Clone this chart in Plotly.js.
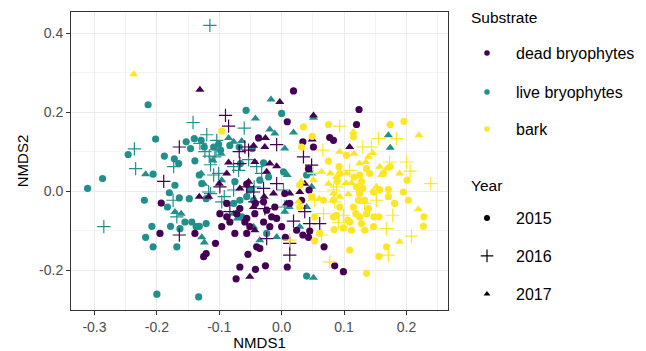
<!DOCTYPE html>
<html>
<head>
<meta charset="utf-8">
<script src="https://cdn.plot.ly/plotly-3.0.1.min.js"></script>
<style>html,body{margin:0;padding:0;background:#fff;}#chart{width:646px;height:351px;}</style>
</head>
<body>
<div id="chart"></div>
<script>
// ---- Data (NMDS scores) ----
const substrates = ["dead bryophytes", "live bryophytes", "bark"];
const years = ["2015", "2016", "2017"];
const xTickVals = [-0.3, -0.2, -0.1, 0.0, 0.1, 0.2];
const xTickText = ["-0.3", "-0.2", "-0.1", "0.0", "0.1", "0.2"];
const yTickVals = [-0.2, 0.0, 0.2, 0.4];
const yTickText = ["-0.2", "0.0", "0.2", "0.4"];

// live bryophytes
const liveX2015 = [-0.311,-0.287,-0.246,-0.214,-0.202,-0.188,-0.206,-0.220,-0.208,-0.218,-0.206,-0.200,-0.172,-0.165,-0.171,-0.180,-0.183,-0.178,-0.168,-0.164,-0.163,-0.153,-0.146,-0.140,-0.148,-0.139,-0.129,-0.124,-0.132,-0.128,-0.121,-0.121,-0.133,-0.144,-0.155,-0.132,-0.057,0.000,-0.109,-0.101,-0.098,-0.083,-0.068,-0.066,-0.075,-0.056,-0.051,-0.067,-0.077,-0.045,-0.029,-0.021,-0.035,0.003,0.040,0.040,-0.047,-0.064,-0.024,-0.137];
const liveY2015 = [0.007,0.032,0.093,0.219,0.132,0.089,0.043,-0.023,-0.089,-0.117,-0.141,-0.261,0.082,0.070,0.015,-0.004,-0.040,-0.089,-0.141,-0.017,-0.095,0.125,0.108,0.133,-0.019,0.077,0.129,0.112,0.041,0.019,-0.019,-0.082,-0.268,-0.078,-0.078,-0.089,0.205,0.197,0.112,0.119,0.104,0.116,0.112,0.070,0.024,-0.014,0.003,-0.023,-0.031,-0.023,0.072,0.036,0.028,0.049,-0.215,0.041,0.108,-0.065,-0.107,-0.090];
const liveX2016 = [-0.115,-0.285,-0.236,-0.234,-0.142,-0.120,-0.131,-0.104,-0.060,-0.123,-0.116,-0.107,-0.101,-0.114,-0.105,-0.173,-0.174,-0.168,-0.117,-0.114,-0.096,-0.092,-0.077,-0.069,-0.053,-0.040,-0.032,-0.044,-0.077,0.003,0.005,-0.109];
const liveY2016 = [0.420,-0.090,0.107,0.057,0.174,0.143,0.121,0.129,0.160,0.100,0.089,0.087,0.045,0.067,0.105,0.062,-0.023,-0.065,-0.002,-0.006,-0.027,-0.014,0.062,0.053,0.080,0.062,0.045,0.011,0.003,0.003,-0.040,0.041];
const liveX2017 = [-0.218,-0.171,-0.161,-0.128,-0.124,-0.129,-0.085,-0.077,-0.064,-0.042,-0.017,-0.019,-0.011,0.019,0.005,0.051,-0.097,-0.110,-0.125,-0.096,-0.071,-0.077,-0.045,-0.035,-0.008,0.005,0.009,0.012,0.048,0.040,0.048,0.051,0.171,0.174,0.029];
const liveY2017 = [0.043,-0.053,-0.057,-0.117,-0.130,0.045,0.135,0.125,0.127,0.184,0.232,0.156,0.146,0.149,0.108,0.186,0.095,0.078,0.019,0.028,-0.069,-0.057,-0.090,-0.124,-0.116,-0.052,0.041,-0.040,0.011,-0.040,0.045,-0.219,0.142,0.110,-0.090];

// dead bryophytes
const deadX2015 = [0.019,0.124,0.120,0.009,-0.037,0.077,0.083,0.034,0.051,-0.193,-0.195,-0.139,-0.125,-0.121,-0.106,-0.099,-0.096,-0.083,-0.075,-0.072,-0.059,-0.056,-0.054,-0.040,-0.035,-0.073,-0.067,-0.042,-0.026,-0.029,-0.019,-0.008,0.000,0.009,0.006,0.024,0.034,0.043,0.045,0.068,0.085,0.099,-0.056,-0.042,-0.011,0.005,0.013,0.032,0.044,0.043,-0.043,-0.024,-0.029,-0.067,-0.088,-0.056,-0.088,-0.051,-0.016];
const deadY2015 = [0.254,0.207,0.169,0.176,0.135,0.136,0.129,0.125,0.112,-0.030,-0.107,-0.107,-0.166,-0.158,-0.132,-0.057,-0.090,-0.078,-0.107,-0.057,-0.078,-0.107,-0.160,-0.141,-0.145,-0.222,-0.192,-0.198,-0.189,-0.078,-0.090,-0.069,-0.090,-0.192,-0.117,-0.099,-0.111,-0.117,-0.101,-0.141,-0.189,-0.204,0.018,-0.031,-0.040,-0.006,-0.031,-0.023,0.003,0.057,-0.057,-0.048,-0.027,-0.044,-0.031,-0.069,-0.065,-0.090,-0.065];
const deadX2016 = [-0.090,-0.085,-0.164,-0.189,-0.164,-0.059,-0.068,-0.053,-0.008,-0.067,-0.056,-0.045,-0.029,-0.008,-0.099,-0.083,-0.024,0.019,0.013,0.013,0.037,0.035,0.048,0.061,0.045,-0.027,-0.043];
const deadY2016 = [0.192,0.165,0.112,0.025,-0.111,0.112,0.100,0.104,0.118,0.070,0.011,-0.002,0.007,0.019,0.011,-0.052,-0.120,-0.076,-0.132,-0.162,-0.052,0.087,0.066,-0.082,-0.082,-0.044,-0.027];
const deadX2017 = [-0.131,-0.003,0.051,0.049,0.109,-0.045,-0.026,-0.027,-0.085,-0.088,-0.100,-0.117,-0.132,-0.067,-0.053,-0.024,-0.019,-0.008,-0.013,0.013,0.029,0.037,-0.051,-0.045,0.008,-0.028,-0.043,-0.043];
const deadY2017 = [0.257,0.226,0.192,0.131,0.112,0.115,0.135,0.112,0.073,0.045,0.019,-0.014,-0.014,0.007,0.024,0.049,0.070,0.063,-0.006,-0.006,-0.002,0.019,-0.217,-0.040,-0.031,-0.014,0.074,-0.099];

// bark
const barkX2015 = [-0.096,0.035,0.075,0.174,0.196,0.049,0.075,0.092,0.093,0.089,0.104,0.115,0.116,0.125,0.136,0.141,0.128,0.130,0.133,0.123,0.115,0.119,0.125,0.136,0.139,0.147,0.157,0.163,0.174,0.171,0.171,0.181,0.195,0.201,0.203,0.228,0.227,0.156,0.148,0.109,0.112,0.099,0.084,0.106,0.128,0.133,0.109,0.136,0.156,0.168,0.053,0.053,0.061,0.048,0.029,0.029,0.032,0.067,0.083,0.093,0.088,0.147,0.083,0.125,0.120];
const barkY2015 = [0.152,0.163,0.169,0.169,0.177,0.139,0.076,0.062,0.045,0.025,0.091,0.138,0.036,0.041,0.057,0.045,0.024,0.007,-0.023,-0.023,-0.040,-0.057,-0.065,-0.057,-0.044,-0.002,0.004,0.045,0.062,0.004,-0.014,-0.031,-0.002,0.028,-0.023,-0.065,-0.089,-0.065,-0.065,-0.078,-0.099,-0.093,-0.097,-0.073,-0.082,-0.099,-0.149,-0.208,-0.165,-0.141,-0.126,-0.065,-0.107,-0.014,-0.040,0.015,0.112,-0.023,-0.023,-0.040,-0.061,-0.090,-0.065,-0.006,0.011];
const barkX2016 = [0.093,0.155,0.184,0.130,0.066,0.200,0.206,0.239,0.173,0.088,0.109,0.083,0.152,0.178,0.168,0.208,0.171,0.077,0.085,0.053,0.067,0.064,0.091,0.013,0.133,0.144,0.099,0.051];
const barkY2016 = [0.165,0.133,0.133,0.112,0.104,0.074,0.051,0.019,0.074,0.011,0.053,0.003,-0.023,-0.061,-0.095,-0.114,-0.162,-0.179,-0.027,-0.023,-0.057,-0.111,-0.080,-0.124,-0.031,0.112,-0.061,0.045];
const barkX2017 = [-0.237,0.220,0.115,0.146,0.157,0.135,0.125,0.116,0.093,0.078,0.064,0.051,0.075,0.103,0.031,0.027,0.060,0.083,0.093,0.112,0.189,0.219,0.189,0.107,0.125,0.152,0.160,0.168,0.139,0.104,0.088];
const barkY2017 = [0.296,0.142,0.150,0.097,0.062,0.074,0.070,0.095,0.100,0.045,0.049,0.028,0.019,0.021,0.024,-0.027,-0.019,-0.006,-0.014,0.021,0.045,-0.046,-0.128,-0.008,0.003,0.011,0.041,0.057,0.087,0.045,0.036];

// ---- Styling ----
const colors = {"dead bryophytes": "#440154", "live bryophytes": "#21908C", "bark": "#FDE725"};
const symbols = {"2015": "circle", "2016": "cross-thin-open", "2017": "triangle-up"};
const FONT = "Liberation Sans, Arial, sans-serif";
const W = 646, H = 351;

const series = {
  "dead bryophytes": {"2015": [deadX2015, deadY2015], "2016": [deadX2016, deadY2016], "2017": [deadX2017, deadY2017]},
  "live bryophytes": {"2015": [liveX2015, liveY2015], "2016": [liveX2016, liveY2016], "2017": [liveX2017, liveY2017]},
  "bark": {"2015": [barkX2015, barkY2015], "2016": [barkX2016, barkY2016], "2017": [barkX2017, barkY2017]}
};

function markerFor(color, year) {
  if (year === "2016") {
    return {symbol: symbols[year], size: 9.5, color: color, line: {color: color, width: 1.2}};
  }
  return {symbol: symbols[year], size: year === "2017" ? 8 : 7.2, color: color, line: {width: 0}};
}

const traces = [];
["live bryophytes", "dead bryophytes", "bark"].forEach(function (s) {
  years.forEach(function (yr) {
    const d = series[s][yr];
    traces.push({
      type: "scatter", mode: "markers", x: d[0], y: d[1],
      name: s + " " + yr, showlegend: false, hoverinfo: "skip",
      marker: markerFor(colors[s], yr)
    });
  });
});

// one legend box per entry, so the ggplot spacing can be matched
const legendRows = [53, 92, 129, 218, 256, 294];
const legendX = 458 / W;
const legendDefs = {};
substrates.forEach(function (s, i) {
  const key = i === 0 ? "legend" : "legend" + (i + 1);
  traces.push({
    type: "scatter", mode: "markers", x: [null], y: [null], name: s,
    legend: key, showlegend: true,
    marker: {symbol: "circle", size: 5.5, color: colors[s]}
  });
  legendDefs[key] = legendRows[i];
});
years.forEach(function (yr, i) {
  const key = "legend" + (i + 4);
  const m = yr === "2016" ? {symbol: "cross-thin-open", size: 9, color: "#000", line: {color: "#000", width: 1.2}}
                          : {symbol: symbols[yr], size: 6, color: "#000", line: {width: 0}};
  traces.push({
    type: "scatter", mode: "markers", x: [null], y: [null], name: yr,
    legend: key, showlegend: true, marker: m
  });
  legendDefs[key] = legendRows[i + 3];
});

const axisCommon = {
  showgrid: true, gridcolor: "#EBEBEB", gridwidth: 1,
  zeroline: false, showline: true, mirror: true, linecolor: "#333333", linewidth: 1,
  ticks: "outside", ticklen: 4, tickcolor: "#333333", tickwidth: 1,
  tickfont: {family: FONT, size: 14, color: "#4D4D4D"}
};

const layout = {
  width: W, height: H,
  margin: {l: 71, r: 198, t: 12, b: 41},
  paper_bgcolor: "#fff", plot_bgcolor: "#fff",
  font: {family: FONT, color: "#000"},
  xaxis: Object.assign({}, axisCommon, {
    range: [-0.3376, 0.2666], tickvals: xTickVals, ticktext: xTickText,
    minor: {tickvals: [-0.25, -0.15, -0.05, 0.05, 0.15, 0.25], showgrid: true, gridcolor: "#F3F3F3", gridwidth: 1, ticks: ""},
    title: {text: "NMDS1", font: {family: FONT, size: 15, color: "#000"}, standoff: 2}
  }),
  yaxis: Object.assign({}, axisCommon, {
    range: [-0.301, 0.454], tickvals: yTickVals, ticktext: yTickText,
    minor: {tickvals: [-0.3, -0.1, 0.1, 0.3], showgrid: true, gridcolor: "#F3F3F3", gridwidth: 1, ticks: ""},
    title: {text: "NMDS2", font: {family: FONT, size: 15, color: "#000"}, standoff: 6}
  }),
  annotations: [
    {text: "Substrate", xref: "paper", yref: "paper", x: (469 - 71) / 377, y: 1 - (18 - 12) / 298,
     xanchor: "left", yanchor: "middle", showarrow: false, font: {family: FONT, size: 15.5, color: "#000"}},
    {text: "Year", xref: "paper", yref: "paper", x: (469 - 71) / 377, y: 1 - (185 - 12) / 298,
     xanchor: "left", yanchor: "middle", showarrow: false, font: {family: FONT, size: 15.5, color: "#000"}}
  ],
  showlegend: true
};
Object.keys(legendDefs).forEach(function (key) {
  layout[key] = {
    xref: "container", yref: "container", x: legendX, y: 1 - legendDefs[key] / H,
    xanchor: "left", yanchor: "middle", itemwidth: 48, itemsizing: "trace",
    font: {family: FONT, size: 16, color: "#000"}, bgcolor: "rgba(0,0,0,0)", borderwidth: 0
  };
});

Plotly.newPlot("chart", traces, layout, {displayModeBar: false, staticPlot: true});
</script>
</body>
</html>
